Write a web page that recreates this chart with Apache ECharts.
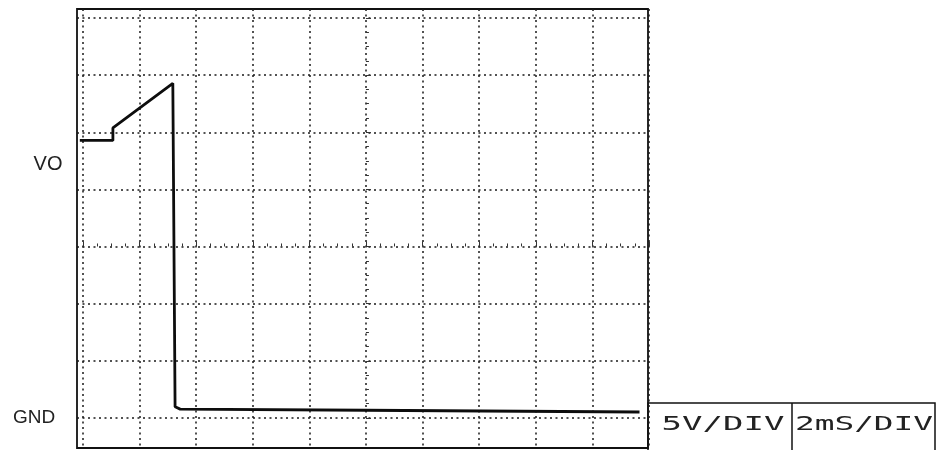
<!DOCTYPE html>
<html>
<head>
<meta charset="utf-8">
<script src="https://cdn.jsdelivr.net/npm/echarts@6/dist/echarts.min.js"></script>
<style>
  html, body { margin: 0; padding: 0; background: #fff; }
  #chart { width: 948px; height: 450px; }
</style>
</head>
<body>
<div id="chart"></div>
<script>
  // scope trace, time in ms (2 ms / div) and volts above GND (5 V / div)
  const timeMs = [-0.1, 1.07, 1.07, 3.19, 3.27, 3.45, 10, 19.7]
  const voltsV = [23.5, 23.5, 24.6, 28.5, 0.2, 0, -0.1, -0.25]
  // graticule divisions
  const hDivs = 7
  const vDivs = 10
  const channelLabels = ['VO', 'GND']
  const scaleLabels = ['5V/DIV', '2mS/DIV']

  const dotted = { color: '#1a1a1a', width: 1.5, type: [2, 3.5] }

  const myChart = echarts.init(document.getElementById('chart'))
  myChart.setOption({
    animation: false,
    backgroundColor: '#fff',
    grid: [
      // frame + trace
      { left: 77, right: 300, top: 9, bottom: 2, show: true, borderColor: '#111', borderWidth: 1.8 },
      // horizontal graticule lines
      { left: 77, right: 300, top: 18, bottom: 32 },
      // vertical graticule lines
      { left: 83, right: 299, top: 9, bottom: 2 }
    ],
    xAxis: [
      { gridIndex: 0, type: 'value', min: -0.2, max: 20, show: false },
      { gridIndex: 1, type: 'value', min: -5.06, max: 4.94, show: false },
      {
        gridIndex: 2, type: 'value', min: -vDivs / 2, max: vDivs / 2, interval: 1,
        axisLine: { show: false },
        axisLabel: { show: false },
        axisTick: { show: true, inside: true, length: 5, lineStyle: { color: '#333' } },
        minorTick: { show: true, splitNumber: 4, length: 3, lineStyle: { color: '#333' } },
        splitLine: { show: true, lineStyle: dotted }
      }
    ],
    yAxis: [
      { gridIndex: 0, type: 'value', min: -3.4, max: 35, show: false },
      {
        gridIndex: 1, type: 'value', min: 0, max: hDivs, interval: 1,
        axisLine: { show: false },
        axisLabel: { show: false },
        axisTick: { show: true, inside: true, length: 5, lineStyle: { color: '#333' } },
        minorTick: { show: true, splitNumber: 4, length: 3, lineStyle: { color: '#333' } },
        splitLine: { show: true, lineStyle: dotted }
      },
      { gridIndex: 2, type: 'value', min: -3.53, max: 4.16, show: false }
    ],
    series: [
      {
        type: 'line',
        xAxisIndex: 0,
        yAxisIndex: 0,
        z: 5,
        showSymbol: false,
        data: timeMs.map((t, i) => [t, voltsV[i]]),
        lineStyle: { color: '#0d0d0d', width: 2.8 }
      }
    ],
    graphic: [
      { type: 'text', x: 48, y: 164, style: { text: channelLabels[0], fontFamily: 'Liberation Sans', fontSize: 20, fill: '#222', align: 'center', verticalAlign: 'middle' } },
      { type: 'text', x: 34, y: 418, style: { text: channelLabels[1], fontFamily: 'Liberation Sans', fontSize: 19, fill: '#222', align: 'center', verticalAlign: 'middle' } },
      { type: 'rect', shape: { x: 648, y: 403, width: 287, height: 60 }, style: { fill: 'none', stroke: '#111', lineWidth: 1.5 } },
      { type: 'line', shape: { x1: 792, y1: 403, x2: 792, y2: 450 }, style: { stroke: '#111', lineWidth: 1.5 } },
      { type: 'text', x: 723, y: 425, scaleX: 1.7, style: { text: scaleLabels[0], fontFamily: 'DejaVu Sans Mono', fontSize: 20, fill: '#222', align: 'center', verticalAlign: 'middle' } },
      { type: 'text', x: 864, y: 425, scaleX: 1.64, style: { text: scaleLabels[1], fontFamily: 'DejaVu Sans Mono', fontSize: 20, fill: '#222', align: 'center', verticalAlign: 'middle' } }
    ]
  })
</script>
</body>
</html>
